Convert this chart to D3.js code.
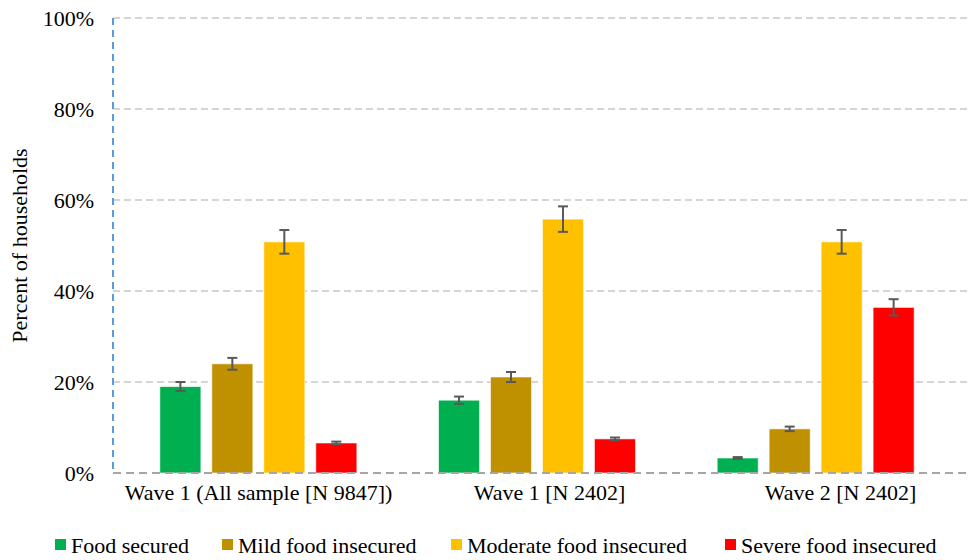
<!DOCTYPE html>
<html>
<head>
<meta charset="utf-8">
<script src="https://cdn.jsdelivr.net/npm/d3@7"></script>
<style>
  body { margin: 0; background: #fff; }
</style>
</head>
<body>
<div id="canvas"></div>
<script>
"use strict"

/* Data */
let groups = ["Wave 1 (All sample [N 9847])", "Wave 1 [N 2402]", "Wave 2 [N 2402]"];
let series = ["Food secured", "Mild food insecured", "Moderate food insecured", "Severe food insecured"];
let colors = ["#00b050", "#bf9000", "#ffc000", "#ff0000"];
// one array per series, values in percent, one per group
let foodSecured = [19.0, 16.0, 3.3];
let mildInsecured = [24.0, 21.1, 9.7];
let moderateInsecured = [50.8, 55.8, 50.8];
let severeInsecured = [6.6, 7.5, 36.4];
// half-width of the error bars
let foodSecuredErr = [1.0, 0.8, 0.2];
let mildInsecuredErr = [1.3, 1.1, 0.5];
let moderateInsecuredErr = [2.6, 2.8, 2.6];
let severeInsecuredErr = [0.3, 0.3, 1.8];
let yTicks = [0, 20, 40, 60, 80, 100];

let values = [foodSecured, mildInsecured, moderateInsecured, severeInsecured];
let errors = [foodSecuredErr, mildInsecuredErr, moderateInsecuredErr, severeInsecuredErr];

/* Drawing settings */
let svgWidth = 968;
let svgHeight = 560;
let plotLeft = 113;
let plotTop = 18;
let plotBottom = 473;
let fontFamily = "'Liberation Serif', 'DejaVu Serif', 'Times New Roman', serif";

let svg = d3.select("#canvas")
    .append("svg")
    .attr("width", svgWidth)
    .attr("height", svgHeight)
    .attr("font-family", fontFamily);

let y = d3.scaleLinear()
    .domain([0, 100])
    .range([plotBottom, plotTop]);

// bar groups and category labels are not quite on the same grid in the original
let xBars = d3.scaleBand()
    .domain(groups)
    .range([119, 955]);

let xLabels = d3.scaleBand()
    .domain(groups)
    .range([plotLeft, 986]);

let xInner = d3.scaleBand()
    .domain(series)
    .range([-98.5, 98.5])
    .paddingInner(0.21)
    .paddingOuter(0);

/* gridlines */
svg.append("g")
    .selectAll("line")
    .data(yTicks.filter(d => d > 0))
    .join("line")
    .attr("x1", plotLeft)
    .attr("x2", svgWidth)
    .attr("y1", d => y(d))
    .attr("y2", d => y(d))
    .attr("stroke", "#c8c8c8")
    .attr("stroke-width", 1.5)
    .attr("stroke-dasharray", "7,4");

/* y axis labels */
svg.append("g")
    .selectAll("text")
    .data(yTicks)
    .join("text")
    .attr("x", 94)
    .attr("y", d => y(d))
    .attr("dy", "0.35em")
    .attr("text-anchor", "end")
    .style("font-family", fontFamily)
    .style("font-size", "22px")
    .text(d => d + "%");

svg.append("text")
    .attr("transform", "translate(27," + ((plotTop + plotBottom) / 2) + ") rotate(-90)")
    .attr("text-anchor", "middle")
    .style("font-family", fontFamily)
    .style("font-size", "22px")
    .text("Percent of households");

/* bars */
let bars = [];
series.forEach(function (s, si) {
    groups.forEach(function (g, gi) {
        bars.push({ series: s, si: si, group: g, value: values[si][gi], err: errors[si][gi] });
    });
});

function barX(d) {
    return xBars(d.group) + xBars.bandwidth() / 2 + xInner(d.series);
}

svg.append("g")
    .selectAll("rect")
    .data(bars)
    .join("rect")
    .attr("x", barX)
    .attr("width", xInner.bandwidth())
    .attr("y", d => y(d.value))
    .attr("height", d => y(0) - y(d.value))
    .attr("fill", d => colors[d.si])
    .attr("stroke", "#ffffff")
    .attr("stroke-opacity", 0.6)
    .attr("stroke-width", 1);

/* x axis baseline and left axis */
svg.append("line")
    .attr("x1", plotLeft)
    .attr("x2", svgWidth)
    .attr("y1", y(0))
    .attr("y2", y(0))
    .attr("stroke", "#a6a6a6")
    .attr("stroke-width", 2)
    .attr("stroke-dasharray", "8,5");

svg.append("line")
    .attr("x1", plotLeft)
    .attr("x2", plotLeft)
    .attr("y1", y(100))
    .attr("y2", y(0))
    .attr("stroke", "#5b9bd5")
    .attr("stroke-width", 2)
    .attr("stroke-dasharray", "7,5");

/* error bars */
let errG = svg.append("g")
    .attr("stroke", "#595959")
    .attr("stroke-width", 2);

errG.selectAll("line.v")
    .data(bars)
    .join("line")
    .attr("class", "v")
    .attr("x1", d => barX(d) + xInner.bandwidth() / 2)
    .attr("x2", d => barX(d) + xInner.bandwidth() / 2)
    .attr("y1", d => y(d.value + d.err))
    .attr("y2", d => y(d.value - d.err));

errG.selectAll("line.top")
    .data(bars)
    .join("line")
    .attr("class", "top")
    .attr("x1", d => barX(d) + xInner.bandwidth() / 2 - 5)
    .attr("x2", d => barX(d) + xInner.bandwidth() / 2 + 5)
    .attr("y1", d => y(d.value + d.err))
    .attr("y2", d => y(d.value + d.err));

errG.selectAll("line.bottom")
    .data(bars)
    .join("line")
    .attr("class", "bottom")
    .attr("x1", d => barX(d) + xInner.bandwidth() / 2 - 5)
    .attr("x2", d => barX(d) + xInner.bandwidth() / 2 + 5)
    .attr("y1", d => y(d.value - d.err))
    .attr("y2", d => y(d.value - d.err));

/* category labels */
svg.append("g")
    .selectAll("text")
    .data(groups)
    .join("text")
    .attr("x", d => xLabels(d) + xLabels.bandwidth() / 2)
    .attr("y", 500)
    .attr("text-anchor", "middle")
    .style("font-family", fontFamily)
    .style("font-size", "22px")
    .text(d => d);

/* legend */
let legendX = [55, 222, 451, 725];
let legend = svg.append("g")
    .selectAll("g")
    .data(series)
    .join("g")
    .attr("transform", (d, i) => "translate(" + legendX[i] + ",545)");

legend.append("rect")
    .attr("x", 0)
    .attr("y", -6)
    .attr("width", 11)
    .attr("height", 11)
    .attr("fill", (d, i) => colors[i]);

legend.append("text")
    .attr("x", 16)
    .attr("y", 0)
    .attr("dy", "0.35em")
    .style("font-family", fontFamily)
    .style("font-size", "22px")
    .text(d => d);
</script>
</body>
</html>
